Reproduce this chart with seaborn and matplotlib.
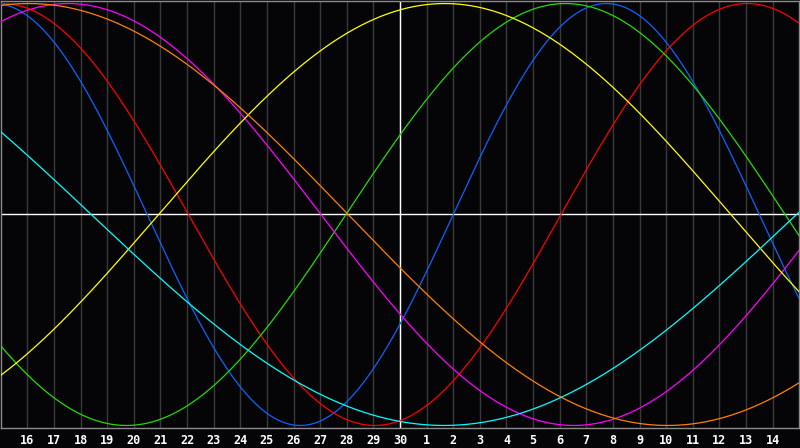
import numpy as np
import pandas as pd
import matplotlib
matplotlib.use("Agg")
import matplotlib.pyplot as plt
import seaborn as sns

# cycle lengths (days) and the day offset (from the 30th) where each curve crosses zero going up
cycles = ["physical", "emotional", "intellectual", "intuitive", "aesthetic", "awareness", "spiritual"]
periods = [23, 28, 33, 38, 43, 48, 53]
rise_day = [2.0, 6.05, -2.03, 16.03, -9.07, 22.05, 14.9]
colors = ["#0a64ff", "#ff0000", "#22dd00", "#ff00ff", "#ffff00", "#ff8000", "#00ffff"]

# day labels under the grid lines (centre = 30th)
day_offsets = list(range(-14, 15))
day_labels = [str(d) for d in range(16, 31)] + [str(d) for d in range(1, 15)]


def build_frame():
    t = np.linspace(-15, 15, 601)
    rows = []
    for name, p, z in zip(cycles, periods, rise_day):
        rows.append(pd.DataFrame({"day": t, "value": np.sin(2 * np.pi * (t - z) / p), "cycle": name}))
    return pd.concat(rows, ignore_index=True)


def plot_chart(df):
    sns.set_style("dark")
    bg = "#050508"
    fig = plt.figure(figsize=(8, 4.48), dpi=100, facecolor=bg)
    ax = fig.add_axes([0.001, 20 / 448, 0.998, 427 / 448])
    ax.set_facecolor(bg)

    ax.set_xticks(day_offsets)
    ax.set_xticklabels(day_labels)
    ax.grid(axis="x", color="#3a3a3a", lw=1)
    ax.grid(axis="y", visible=False)

    sns.lineplot(data=df, x="day", y="value", hue="cycle", hue_order=cycles,
                 palette=colors, lw=0.9, legend=False, ax=ax, zorder=3)

    ax.axvline(0, color="white", lw=1, zorder=2)
    ax.axhline(0, color="white", lw=1, zorder=2)

    ax.set_xlim(-15, 15)
    ax.set_ylim(-1.012, 1.012)
    ax.set_yticks([])
    ax.set_xlabel("")
    ax.set_ylabel("")
    ax.tick_params(axis="x", length=0, pad=4, colors="white")
    for lbl in ax.get_xticklabels():
        lbl.set_fontfamily("DejaVu Sans Mono")
        lbl.set_fontweight("bold")
        lbl.set_fontsize(8.5)
    for s in ax.spines.values():
        s.set_visible(True)
        s.set_color("#8a8a8a")
        s.set_linewidth(1)

    fig.savefig("out.png", dpi=100, facecolor=bg)


if __name__ == "__main__":
    df = build_frame()
    plot_chart(df)
